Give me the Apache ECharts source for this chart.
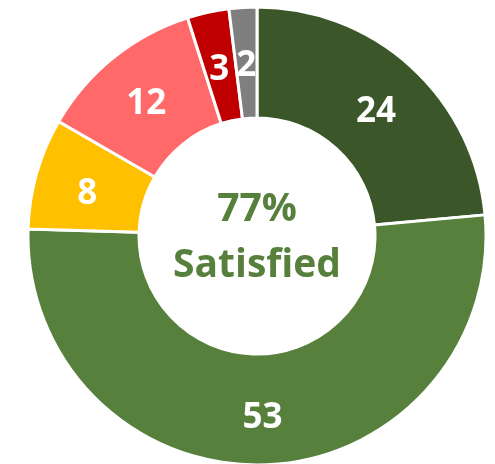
<!DOCTYPE html>
<html>
<head>
<meta charset="utf-8">
<script src="https://cdn.jsdelivr.net/npm/echarts@6/dist/echarts.min.js"></script>
<style>
  html, body { margin: 0; padding: 0; background: #fff; }
  #chart { width: 495px; height: 464px; }
</style>
</head>
<body>
<div id="chart"></div>
<script>
// survey answers, clockwise from 12 o'clock
const categories = ['Very satisfied', 'Satisfied', 'Neutral', 'Dissatisfied', 'Very dissatisfied', 'No answer']
const counts = [24, 53, 8, 12, 3, 2]
const colors = ['#3b5729', '#56803c', '#ffc000', '#ff6969', '#c00000', '#7f7f7f']
const centerLines = ['77%', 'Satisfied']

const chart = echarts.init(document.getElementById('chart'), null, { renderer: 'canvas' })

chart.setOption({
  animation: false,
  graphic: [
    {
      type: 'text',
      x: 257,
      y: 238,
      style: {
        text: centerLines.join('\n'),
        fill: '#56803c',
        font: 'bold 39px "Open Sans"',
        lineHeight: 56,
        align: 'center',
        verticalAlign: 'middle'
      }
    }
  ],
  series: [
    {
      type: 'pie',
      center: [257, 236],
      radius: [118, 229],
      startAngle: 90,
      clockwise: true,
      avoidLabelOverlap: false,
      itemStyle: {
        borderColor: '#fff',
        borderWidth: 3
      },
      label: {
        show: true,
        position: 'inside',
        formatter: '{c}',
        color: '#fff',
        fontFamily: 'Open Sans',
        fontWeight: 'bold',
        fontSize: 35
      },
      labelLayout: { dy: 6 },
      labelLine: { show: false },
      data: categories.map((name, i) => ({
        name: name,
        value: counts[i],
        itemStyle: { color: colors[i] }
      }))
    }
  ]
})
</script>
</body>
</html>
